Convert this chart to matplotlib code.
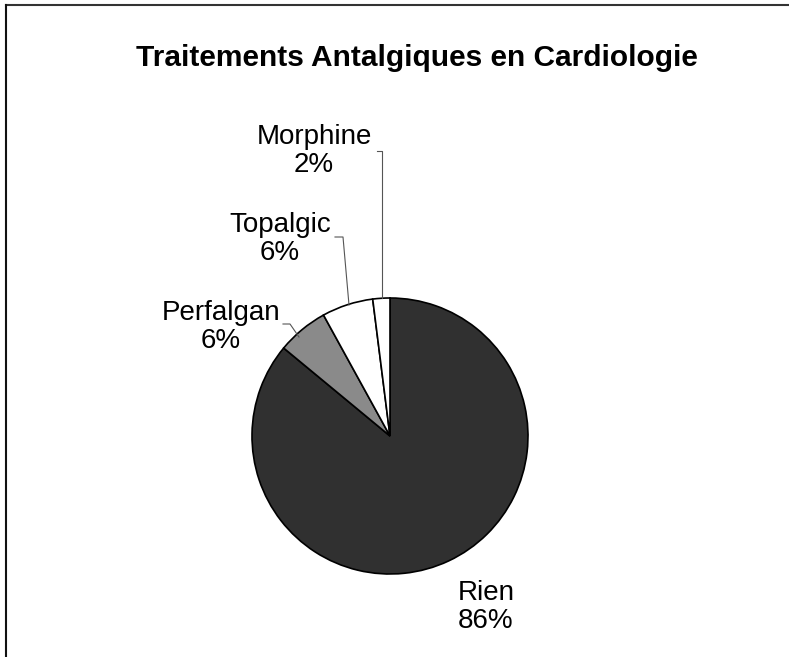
import matplotlib.pyplot as plt
import numpy as np

plt.rcParams['font.family'] = ['Liberation Sans', 'DejaVu Sans']

labels = ['Rien', 'Perfalgan', 'Topalgic', 'Morphine']
values = [86, 6, 6, 2]
colors = ['#303030', '#8a8a8a', '#ffffff', '#ffffff']

W, H = 789, 657
fig = plt.figure(figsize=(W / 100, H / 100), dpi=100)
ax = fig.add_axes([0, 0, 1, 1])

# pie in pixel units (y measured from bottom)
cx, cy, r = 390, H - 436, 138
ax.pie(values, colors=colors, startangle=90, counterclock=False,
       center=(cx, cy), radius=r, frame=True,
       wedgeprops=dict(edgecolor='black', linewidth=1.2))
ax.set_xlim(0, W)
ax.set_ylim(0, H)
ax.set_aspect('equal')
ax.axis('off')

# label positions (pixels from top-left) and leader lines
label_pos = [(486, 607), (221, 327), (280, 239), (314, 151)]
for (lx, ly), name, v in zip(label_pos, labels, values):
    ax.text(lx, H - ly, f'{name}\n{v}%', ha='center', va='center',
            fontsize=20, linespacing=1.13)

leaders = [
    [(283, 324), (290, 324), (299, 337)],
    [(335, 237), (343, 237), (349, 305)],
    [(377, 151), (382, 151), (382, 298)],
]
for pts in leaders:
    xs = [p[0] for p in pts]
    ys = [H - p[1] for p in pts]
    ax.plot(xs, ys, color='#555555', linewidth=0.8)

ax.text(417, H - 58, 'Traitements Antalgiques en Cardiologie', ha='center',
        va='center', fontsize=21.5, fontweight='bold')

# partial chart frame (top and left edges)
ax.plot([6, W], [H - 5, H - 5], color='#333333', linewidth=1.5)
ax.plot([6, 6], [H - 5, 0], color='#111111', linewidth=1.5)

fig.savefig('out.png', dpi=100)
